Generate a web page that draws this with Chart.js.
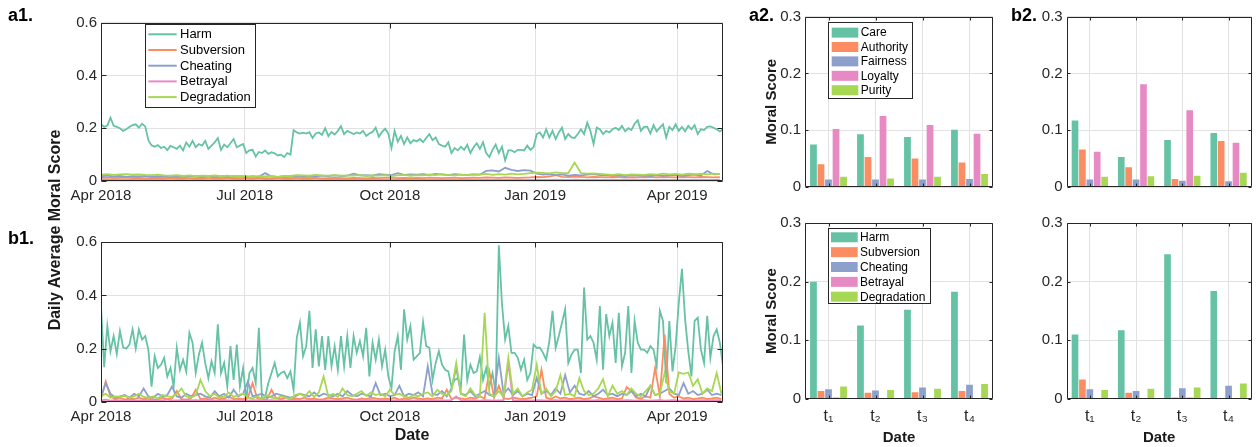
<!DOCTYPE html>
<html>
<head>
<meta charset="utf-8">
<script src="https://cdn.jsdelivr.net/npm/chart.js@4.4.1/dist/chart.umd.min.js"></script>
<style>
  body { margin: 0; background: #fff; }
  #fig { position: relative; width: 1258px; height: 447px; font-family: "Liberation Sans", Arial, sans-serif; }
  #fig canvas { position: absolute; }
  .tag { position: absolute; font-weight: bold; font-size: 18px; line-height: 20px; color: #000; }
  .ytitle { position: absolute; font-weight: bold; font-size: 16px; color: #1a1a1a; white-space: nowrap;
            transform: translate(-50%, -50%) rotate(-90deg); }
</style>
</head>
<body>
<div id="fig">
  <canvas id="a1" width="740" height="212" style="left:0;top:0"></canvas>
  <canvas id="b1" width="740" height="227" style="left:0;top:220px"></canvas>
  <canvas id="a2top" width="245" height="200" style="left:755px;top:0"></canvas>
  <canvas id="a2bot" width="245" height="237" style="left:755px;top:210px"></canvas>
  <canvas id="b2top" width="243" height="200" style="left:1015px;top:0"></canvas>
  <canvas id="b2bot" width="243" height="237" style="left:1015px;top:210px"></canvas>
  <div class="tag" style="left:8px;top:5px">a1.</div>
  <div class="tag" style="left:8px;top:228px">b1.</div>
  <div class="tag" style="left:749px;top:5px">a2.</div>
  <div class="tag" style="left:1011px;top:5px">b2.</div>
  <div class="ytitle" style="left:55px;top:230px">Daily Average Moral Score</div>
</div>
<script>
// ---- data ----
const startDate = '2018-04-01';
const endDate = '2019-04-30';
const dateTicks = ['2018-04-01', '2018-07-01', '2018-10-01', '2019-01-01', '2019-04-01'];
const dateTickLabels = ['Apr 2018', 'Jul 2018', 'Oct 2018', 'Jan 2019', 'Apr 2019'];
const lineSeries = ['Harm', 'Subversion', 'Cheating', 'Betrayal', 'Degradation'];
const foundations = ['Care', 'Authority', 'Fairness', 'Loyalty', 'Purity'];
const periods = ['t\u2081', 't\u2082', 't\u2083', 't\u2084'];
const palette = ['#66c2a5', '#fc8d62', '#8da0cb', '#e78ac3', '#a6d854'];

// sampling interval (days) of each daily series
const harmStep = 2;
const a1MinorStep = 4;
const b1MinorStep = 3;

const a1Harm = [
  .215,.205,.21,.24,.209,.205,.2,.19,.196,.205,
  .212,.215,.202,.217,.207,.155,.135,.13,.136,.125,
  .13,.117,.133,.128,.122,.134,.116,.146,.13,.152,
  .128,.14,.134,.152,.122,.134,.146,.163,.118,.138,
  .128,.143,.159,.128,.134,.14,.106,.116,.118,.093,
  .11,.106,.116,.103,.109,.105,.097,.1,.091,.106,
  .1,.193,.184,.18,.183,.18,.185,.163,.18,.184,
  .175,.2,.17,.186,.176,.19,.208,.178,.19,.184,
  .178,.184,.18,.19,.171,.18,.186,.202,.168,.186,
  .198,.18,.125,.19,.149,.171,.14,.165,.143,.155,
  .15,.159,.147,.163,.178,.155,.165,.14,.134,.13,
  .147,.106,.125,.116,.13,.118,.137,.106,.128,.143,
  .122,.147,.106,.091,.118,.138,.106,.13,.078,.116,
  .116,.109,.118,.118,.116,.134,.118,.128,.178,.184,
  .165,.196,.165,.19,.159,.184,.202,.159,.178,.165,
  .163,.178,.196,.178,.221,.19,.14,.202,.196,.178,
  .19,.184,.196,.202,.193,.209,.188,.2,.193,.217,
  .23,.19,.205,.206,.18,.212,.188,.202,.215,.165,
  .205,.193,.215,.19,.205,.188,.209,.196,.212,.178,
  .196,.193,.205,.207,.202,.196,.188,.196
];
const a1Subversion = [
  .012,.013,.011,.012,.013,.011,.012,.01,.011,.012,
  .011,.01,.012,.011,.01,.011,.012,.01,.011,.01,
  .011,.012,.01,.011,.01,.012,.011,.01,.011,.012,
  .011,.01,.012,.011,.012,.01,.011,.012,.011,.01,
  .012,.011,.01,.012,.011,.013,.012,.011,.012,.011,
  .012,.011,.013,.012,.011,.012,.013,.011,.012,.013,
  .012,.014,.013,.012,.014,.013,.012,.013,.014,.016,
  .015,.017,.022,.016,.015,.017,.016,.014,.016,.015,
  .014,.016,.015,.013,.015,.014,.016,.015,.014,.016,
  .015,.014,.016,.015,.014,.016,.015,.014,.015
];
const a1Cheating = [
  .018,.02,.017,.019,.016,.018,.017,.019,.016,.018,
  .017,.015,.018,.016,.017,.019,.016,.018,.015,.017,
  .016,.018,.017,.015,.018,.016,.03,.017,.016,.018,
  .017,.016,.019,.017,.018,.02,.019,.021,.019,.02,
  .028,.021,.022,.02,.026,.024,.022,.03,.023,.025,
  .024,.026,.023,.027,.025,.022,.026,.024,.023,.025,
  .024,.038,.04,.036,.05,.042,.038,.041,.039,.028,
  .024,.026,.022,.025,.02,.023,.021,.024,.026,.022,
  .021,.023,.02,.019,.022,.02,.021,.019,.022,.02,
  .021,.023,.02,.022,.024,.021,.038,.025,.026
];
const a1Betrayal = [
  .005,.004,.005,.004,.004,.005,.004,.004,.005,.004,
  .004,.003,.004,.004,.003,.004,.004,.003,.004,.004,
  .003,.004,.004,.003,.004,.003,.004,.004,.003,.004,
  .004,.003,.004,.004,.003,.004,.004,.005,.004,.004,
  .004,.005,.004,.004,.005,.004,.004,.005,.004,.004,
  .005,.004,.004,.005,.004,.005,.004,.004,.005,.004,
  .004,.005,.004,.005,.004,.004,.005,.004,.004,.005,
  .004,.004,.005,.004,.004,.005,.004,.004,.005,.004,
  .004,.005,.004,.004,.005,.004,.005,.004,.004,.005,
  .004,.004,.005,.004,.004,.005,.004,.004,.005
];
const a1Degradation = [
  .024,.026,.023,.025,.026,.024,.025,.023,.022,.024,
  .021,.02,.022,.019,.021,.018,.02,.019,.021,.018,
  .02,.017,.019,.018,.016,.018,.017,.019,.016,.018,
  .019,.022,.021,.02,.023,.021,.02,.022,.02,.021,
  .02,.022,.019,.021,.02,.022,.019,.021,.023,.02,
  .022,.021,.024,.022,.025,.023,.021,.024,.022,.025,
  .024,.027,.023,.026,.024,.028,.025,.027,.03,.032,
  .031,.029,.033,.03,.03,.07,.03,.028,.029,.027,
  .025,.023,.026,.022,.025,.024,.023,.026,.024,.028,
  .025,.027,.024,.028,.026,.027,.025,.028,.026
];

const b1Harm = [
  .36,.13,.285,.19,.247,.18,.266,.205,.2,.215,
  .272,.2,.272,.234,.247,.196,.057,.171,.127,.139,
  .165,.095,.127,.057,.203,.12,.158,.114,.259,.222,
  .108,.177,.222,.146,.089,.152,.108,.291,.108,.146,
  .057,.209,.082,.215,.057,.127,.006,.108,.127,.07,
  .278,.006,.019,.07,.108,.146,.095,.108,.114,.089,
  .114,.044,.24,.297,.171,.209,.342,.127,.272,.133,
  .247,.12,.247,.133,.209,.12,.247,.133,.247,.127,
  .247,.184,.228,.171,.278,.095,.222,.158,.234,.133,
  .196,.095,.051,.19,.247,.12,.348,.234,.285,.158,
  .171,.184,.3,.209,.203,.082,.146,.19,.139,.12,
  .114,.057,.082,.089,.057,.253,.082,.139,.108,.114,
  .168,.082,.127,.057,.108,.038,.589,.367,.234,.285,
  .184,.184,.165,.12,.158,.082,.108,.215,.203,.203,
  .184,.158,.228,.342,.203,.247,.297,.348,.146,.177,
  .196,.196,.108,.43,.234,.247,.222,.158,.36,.12,
  .33,.247,.297,.146,.335,.133,.184,.36,.108,.304,
  .222,.196,.196,.184,.209,.196,.133,.342,.304,.07,
  .304,.114,.209,.373,.5,.31,.19,.095,.304,.316,
  .196,.146,.323,.165,.247,.272,.222,.133
];
const b1Subversion = [
  .01,.076,.02,.01,.015,.008,.012,.01,.015,.01,
  .012,.008,.01,.015,.01,.012,.04,.01,.008,.012,
  .045,.01,.012,.008,.015,.01,.012,.02,.01,.012,
  .01,.015,.07,.012,.01,.008,.045,.012,.01,.015,
  .008,.012,.01,.015,.01,.012,.008,.01,.015,.012,
  .01,.012,.015,.01,.008,.012,.01,.015,.012,.01,
  .012,.01,.015,.008,.012,.01,.015,.012,.01,.012,
  .01,.015,.012,.045,.01,.015,.012,.01,.015,.012,
  .02,.012,.114,.015,.06,.012,.01,.015,.012,.01,
  .012,.015,.02,.12,.015,.01,.02,.012,.015,.01,
  .012,.015,.01,.012,.02,.015,.01,.012,.015,.01,
  .012,.055,.04,.015,.012,.02,.015,.127,.02,.253,
  .03,.015,.02,.012,.015,.01,.012,.015,.01,.012,
  .015,.01
];
const b1Cheating = [
  .02,.07,.03,.015,.02,.025,.015,.03,.02,.05,
  .02,.015,.03,.02,.025,.057,.02,.015,.03,.02,
  .025,.03,.02,.015,.04,.02,.03,.015,.045,.02,
  .03,.076,.02,.025,.03,.015,.02,.03,.025,.02,
  .015,.02,.03,.025,.02,.035,.02,.03,.025,.02,
  .03,.02,.04,.025,.02,.03,.025,.02,.07,.025,
  .03,.02,.025,.06,.02,.03,.025,.035,.02,.133,
  .03,.025,.04,.02,.05,.127,.03,.025,.04,.02,
  .03,.04,.025,.02,.165,.03,.05,.025,.04,.02,
  .03,.025,.09,.03,.04,.025,.05,.03,.1,.035,
  .06,.03,.025,.04,.02,.03,.045,.025,.03,.02,
  .03,.025,.04,.02,.03,.02,.06,.025,.03,.04,
  .05,.03,.025,.07,.03,.04,.025,.03,.045,.025,
  .03,.025
];
const b1Betrayal = [
  .005,.008,.004,.006,.005,.004,.007,.005,.004,.006,
  .005,.004,.006,.005,.008,.004,.005,.006,.004,.005,
  .006,.005,.004,.007,.005,.004,.006,.005,.004,.006,
  .005,.004,.006,.005,.004,.005,.006,.004,.005,.004,
  .005,.006,.004,.005,.007,.005,.004,.006,.005,.004,
  .006,.005,.004,.005,.006,.004,.005,.007,.004,.005,
  .006,.004,.005,.006,.004,.005,.004,.006,.005,.004,
  .005,.006,.004,.005,.006,.02,.005,.004,.006,.005,
  .004,.006,.005,.004,.005,.006,.146,.005,.004,.006,
  .005,.004,.006,.005,.004,.005,.006,.004,.005,.006,
  .004,.005,.006,.004,.005,.006,.004,.005,.006,.005,
  .004,.006,.005,.004,.006,.005,.004,.005,.006,.004,
  .005,.006,.004,.005,.006,.004,.005,.006,.004,.005,
  .006,.005
];
const b1Degradation = [
  .02,.03,.015,.02,.018,.022,.015,.02,.03,.018,
  .015,.02,.012,.025,.02,.018,.03,.05,.02,.015,
  .025,.082,.04,.02,.03,.015,.02,.035,.018,.025,
  .03,.015,.012,.02,.01,.025,.015,.012,.02,.015,
  .01,.025,.03,.02,.04,.018,.035,.095,.02,.03,
  .018,.05,.025,.02,.03,.04,.022,.035,.025,.03,
  .02,.045,.025,.03,.02,.015,.025,.02,.03,.035,
  .02,.045,.03,.025,.04,.146,.03,.02,.05,.025,
  .02,.335,.03,.02,.04,.02,.165,.03,.05,.02,
  .035,.045,.139,.03,.05,.02,.04,.1,.025,.03,
  .02,.089,.04,.025,.03,.05,.085,.02,.06,.03,
  .04,.025,.05,.03,.02,.04,.06,.025,.03,.108,
  .04,.03,.11,.105,.11,.06,.085,.03,.05,.04,
  .108,.03
];

// bar panels: one value per period t1..t4
const a2Care = [0.075, 0.093, 0.088, 0.101];
const a2Authority = [0.040, 0.053, 0.050, 0.043];
const a2Fairness = [0.013, 0.013, 0.013, 0.014];
const a2Loyalty = [0.102, 0.125, 0.109, 0.094];
const a2Purity = [0.018, 0.015, 0.018, 0.023];

const b2Care = [0.117, 0.053, 0.083, 0.095];
const b2Authority = [0.066, 0.035, 0.014, 0.081];
const b2Fairness = [0.013, 0.013, 0.011, 0.010];
const b2Loyalty = [0.062, 0.181, 0.135, 0.078];
const b2Purity = [0.018, 0.019, 0.020, 0.025];

const a2Harm = [0.200, 0.125, 0.152, 0.183];
const a2Subversion = [0.013, 0.010, 0.011, 0.013];
const a2Cheating = [0.016, 0.014, 0.019, 0.024];
const a2Betrayal = [0.002, 0.001, 0.001, 0.001];
const a2Degradation = [0.021, 0.015, 0.017, 0.025];

const b2Harm = [0.110, 0.117, 0.247, 0.184];
const b2Subversion = [0.033, 0.010, 0.002, 0.001];
const b2Cheating = [0.016, 0.013, 0.018, 0.022];
const b2Betrayal = [0.001, 0.001, 0.002, 0.001];
const b2Degradation = [0.015, 0.017, 0.019, 0.026];

// ---- helpers ----
const FONT = '"Liberation Sans", Arial, sans-serif';
const GRID = '#e2e2e2';
const AXIS = '#262626';
Chart.defaults.font.family = FONT;
Chart.defaults.color = AXIS;

const day = d => Math.round((Date.parse(d) - Date.parse(startDate)) / 864e5);
const tickDays = dateTicks.map(day);

// matlab-like box with inward tick marks
const frame = {
  id: 'frame',
  afterDatasetsDraw(chart, args, opts) {
    const { ctx, chartArea: a, scales } = chart;
    const len = opts.tick || 4;
    const l = Math.round(a.left) + 0.5, r = Math.round(a.right) - 0.5;
    const t = Math.round(a.top) + 0.5, b = Math.round(a.bottom) - 0.5;
    ctx.save();
    ctx.strokeStyle = AXIS;
    ctx.lineWidth = 1;
    ctx.beginPath();
    ctx.rect(l, t, r - l, b - t);
    scales.x.ticks.forEach((tk, i) => {
      const px = Math.round(scales.x.getPixelForTick(i)) + 0.5;
      ctx.moveTo(px, b); ctx.lineTo(px, b - len);
      ctx.moveTo(px, t); ctx.lineTo(px, t + len);
    });
    scales.y.ticks.forEach((tk, i) => {
      const py = Math.round(scales.y.getPixelForTick(i)) + 0.5;
      ctx.moveTo(l, py); ctx.lineTo(l + len, py);
      ctx.moveTo(r, py); ctx.lineTo(r - len, py);
    });
    ctx.stroke();
    ctx.restore();
  }
};

// boxed legend placed inside the plot area
const boxLegend = {
  id: 'boxLegend',
  afterDraw(chart, args, o) {
    if (!o.show) return;
    const { ctx, chartArea } = chart;
    const x = chartArea.left + o.dx, y = chartArea.top + o.dy;
    ctx.save();
    ctx.fillStyle = '#fff';
    ctx.fillRect(x, y, o.w, o.h);
    ctx.strokeStyle = AXIS;
    ctx.lineWidth = 1;
    ctx.strokeRect(Math.round(x) + 0.5, Math.round(y) + 0.5, Math.round(o.w), Math.round(o.h));
    ctx.font = o.size + 'px ' + FONT;
    ctx.textBaseline = 'middle';
    chart.data.datasets.forEach((ds, i) => {
      const cy = y + o.first + i * o.row;
      if (o.kind === 'line') {
        ctx.strokeStyle = ds.borderColor;
        ctx.lineWidth = 2;
        ctx.beginPath();
        ctx.moveTo(x + o.sx, cy);
        ctx.lineTo(x + o.sx + o.sw, cy);
        ctx.stroke();
      } else {
        ctx.fillStyle = ds.backgroundColor;
        ctx.fillRect(x + o.sx, cy - o.sh / 2, o.sw, o.sh);
      }
      ctx.fillStyle = '#000';
      ctx.fillText(ds.label, x + o.tx, cy + 0.5);
    });
    ctx.restore();
  }
};

function lineChart(id, series, steps, pad, xHeight, xTitle, legend) {
  const datasets = series.map((vals, i) => ({
    label: lineSeries[i],
    data: vals.map((v, k) => ({ x: k * steps[i], y: v })),
    borderColor: palette[i],
    backgroundColor: palette[i],
    borderWidth: 1.8,
    pointRadius: 0,
    tension: 0,
    order: series.length - i
  }));
  return new Chart(document.getElementById(id), {
    type: 'line',
    data: { datasets },
    plugins: [frame, boxLegend],
    options: {
      responsive: false,
      animation: false,
      layout: { padding: pad },
      plugins: {
        legend: { display: false },
        tooltip: { enabled: false },
        frame: { tick: 5 },
        boxLegend: legend || { show: false }
      },
      scales: {
        x: {
          type: 'linear', min: 0, max: day(endDate),
          afterBuildTicks: s => { s.ticks = tickDays.map(v => ({ value: v })); },
          afterFit: s => { s.height = xHeight; },
          ticks: { autoSkip: false, maxRotation: 0, padding: 6, font: { size: 15 },
                   callback: (v, i) => dateTickLabels[i] },
          grid: { color: GRID, drawTicks: false },
          border: { display: false },
          title: { display: !!xTitle, text: xTitle, color: '#1a1a1a',
                   font: { size: 16, weight: 'bold' }, padding: { top: 0, bottom: 1.4 } }
        },
        y: {
          min: 0, max: 0.6,
          afterFit: s => { s.width = 101; },
          ticks: { stepSize: 0.2, padding: 4, font: { size: 15 } },
          grid: { color: GRID, drawTicks: false },
          border: { display: false }
        }
      }
    }
  });
}

function barChart(id, names, series, pad, xHeight, yWidth, showX, yTitle, legend) {
  const datasets = series.map((vals, i) => ({
    label: names[i],
    data: vals,
    backgroundColor: palette[i],
    borderWidth: 0,
    categoryPercentage: 0.8,
    barPercentage: 0.9
  }));
  return new Chart(document.getElementById(id), {
    type: 'bar',
    data: { labels: periods, datasets },
    plugins: [frame, boxLegend],
    options: {
      responsive: false,
      animation: false,
      layout: { padding: pad },
      plugins: {
        legend: { display: false },
        tooltip: { enabled: false },
        frame: { tick: 3 },
        boxLegend: legend || { show: false }
      },
      scales: {
        x: {
          afterFit: s => { s.height = xHeight; },
          ticks: { display: showX, padding: 8, font: { size: 16 } },
          grid: { color: GRID, drawTicks: false, offset: false },
          border: { display: false },
          title: { display: showX, text: 'Date', color: '#1a1a1a',
                   font: { size: 15, weight: 'bold' }, padding: { top: 0, bottom: 0 } }
        },
        y: {
          min: 0, max: 0.3,
          afterFit: s => { s.width = yWidth; },
          ticks: { stepSize: 0.1, padding: 4, font: { size: 15 } },
          grid: { color: GRID, drawTicks: false },
          border: { display: false },
          title: { display: !!yTitle, text: yTitle, color: '#1a1a1a',
                   font: { size: 15, weight: 'bold' }, padding: { top: 8, bottom: 0 } }
        }
      }
    }
  });
}

// ---- panels ----
lineChart('a1', [a1Harm, a1Subversion, a1Cheating, a1Betrayal, a1Degradation],
  [harmStep, a1MinorStep, a1MinorStep, a1MinorStep, a1MinorStep],
  { left: 0, right: 17, top: 22.7, bottom: 0 }, 31, '',
  { show: true, kind: 'line', dx: 43.7, dy: 1.3, w: 110.3, h: 82.7, first: 10.3, row: 15.7,
    sx: 3.6, sw: 28.4, tx: 35.3, size: 13 });

lineChart('b1', [b1Harm, b1Subversion, b1Cheating, b1Betrayal, b1Degradation],
  [harmStep, b1MinorStep, b1MinorStep, b1MinorStep, b1MinorStep],
  { left: 0, right: 17, top: 22.3, bottom: 0 }, 45.3, 'Date', null);

barChart('a2top', foundations, [a2Care, a2Authority, a2Fairness, a2Loyalty, a2Purity],
  { left: 0, right: 7, top: 16.7, bottom: 0 }, 8, 50, false, 'Moral Score',
  { show: true, kind: 'rect', dx: 23.3, dy: 5.6, w: 84.4, h: 76, first: 10.3, row: 14.4,
    sx: 3.4, sw: 26.6, sh: 10, tx: 32.4, size: 12 });

barChart('a2bot', lineSeries, [a2Harm, a2Subversion, a2Cheating, a2Betrayal, a2Degradation],
  { left: 0, right: 7, top: 13.3, bottom: 0 }, 48.3, 50, true, 'Moral Score',
  { show: true, kind: 'rect', dx: 23.3, dy: 5, w: 101.7, h: 75, first: 9, row: 14.85,
    sx: 2.7, sw: 26.7, sh: 10, tx: 31.7, size: 12 });

barChart('b2top', foundations, [b2Care, b2Authority, b2Fairness, b2Loyalty, b2Purity],
  { left: 0, right: 6.3, top: 16.7, bottom: 0 }, 8, 51.7, false, '', null);

barChart('b2bot', lineSeries, [b2Harm, b2Subversion, b2Cheating, b2Betrayal, b2Degradation],
  { left: 0, right: 6.3, top: 13.3, bottom: 0 }, 48.3, 51.7, true, '', null);
</script>
</body>
</html>
